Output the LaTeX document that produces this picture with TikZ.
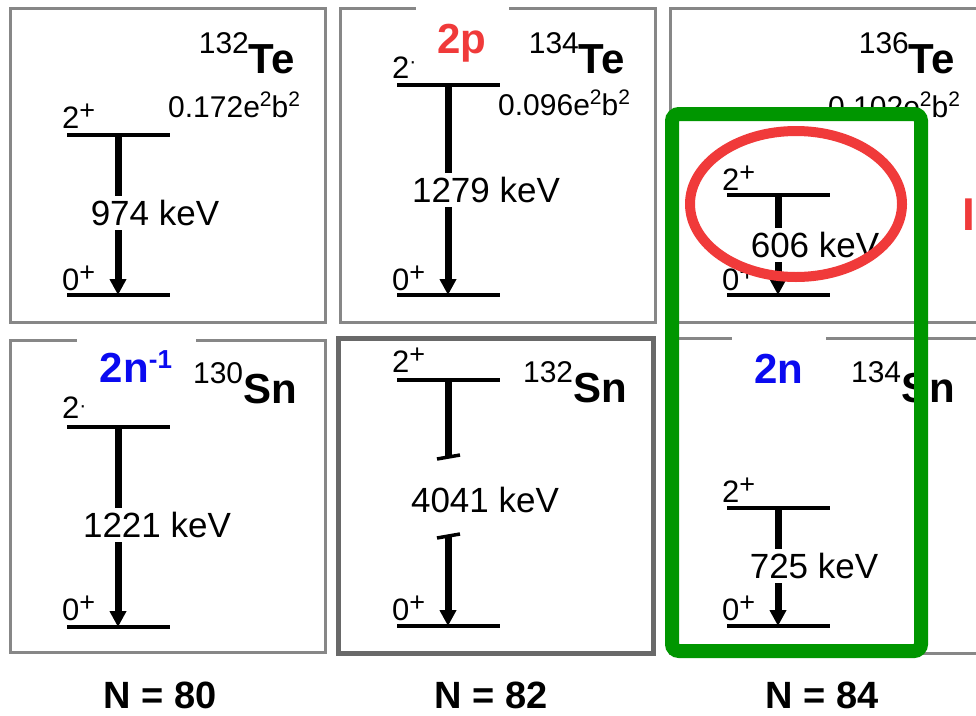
\documentclass[tikz,border=0pt]{standalone}
\usepackage{fontspec}
\setmainfont{Liberation Sans}
\usetikzlibrary{positioning,calc,arrows.meta}
\definecolor{boxgray}{RGB}{135,135,135}
\definecolor{darkbox}{RGB}{105,105,105}
\definecolor{ringred}{RGB}{240,58,58}
\definecolor{shellgreen}{RGB}{0,150,0}
\definecolor{tagblue}{RGB}{10,10,240}
\newcommand{\lift}[3]{\raisebox{#1}{\fontsize{#2}{#2}\selectfont #3}}

\begin{document}
\begin{tikzpicture}[x=1pt, y=-1pt,
    panel/.style={draw=boxgray, line width=3pt},
    lvl/.style={line width=3.5pt},
    trans/.style={line width=7pt},
    decay/.style={trans, -{Triangle[width=16pt, length=16pt]}},
    spin/.style={anchor=base west, inner sep=0pt, font=\fontsize{31}{31}\selectfont},
    egy/.style={inner sep=4pt, font=\fontsize{35}{35}\selectfont},
    bee/.style={anchor=base west, inner sep=0pt, font=\fontsize{30}{30}\selectfont},
    iso/.style={anchor=base east, inner sep=0pt, font=\fontsize{42}{42}\selectfont\bfseries},
    tag/.style={anchor=base, fill=white, inner ysep=19pt, font=\fontsize{42}{42}\selectfont\bfseries},
    nlabel/.style={anchor=base, inner sep=0pt, font=\fontsize{38}{38}\selectfont\bfseries}]
    \path[use as bounding box, fill=white] (0,0) rectangle (976,715);
    \clip (0,0) rectangle (976,715);

    \draw[panel] (10,8) rectangle (325,322);
    \draw[panel] (340,8) rectangle (655,322);
    \draw[panel] (670,8) rectangle (1000,322);
    \draw[panel] (10,340) rectangle (325,652);
    \draw[panel, draw=darkbox, line width=5pt] (338,338) rectangle (653,653);
    \draw[panel] (670,338) rectangle (1000,653);

    \node[tag, text=ringred, minimum width=93pt] (twop) at (462,53) {2p};
    \node[tag, text=tagblue, minimum width=119pt] (holes) at (136,382)
      {2n\lift{14pt}{26}{-1}};
    \node[tag, text=tagblue, minimum width=94pt] (twon) at (779,383) {2n};

    % 132Te
    \draw[lvl] (67,135) -- (170,135);
    \draw[lvl] (67,295) -- (170,295);
    \coordinate (te132hi) at (118,135);
    \coordinate (te132lo) at (118,295);
    \node[spin] (te132two) at (62,128) {2\lift{9pt}{27}{+}};
    \node[spin] (te132zero) at (62,290) {0\lift{9pt}{27}{+}};
    \node[egy] (te132e) at (155,213) {974 keV};
    \draw[trans] (te132hi) -- (te132hi |- te132e.north);
    \draw[decay] (te132hi |- te132e.south) -- (te132lo);
    \node[iso] (te132) at (295,73) {\lift{20pt}{30}{\mdseries 132}Te};
    \node[bee] (te132b) at (168,117) {0.172e\lift{11pt}{21}{2}b\lift{11pt}{21}{2}};

    % 134Te
    \draw[lvl] (397,85) -- (500,85);
    \draw[lvl] (397,295) -- (500,295);
    \coordinate (te134hi) at (448,85);
    \coordinate (te134lo) at (448,295);
    \node[spin] (te134two) at (392,78) {2\lift{10pt}{21}{·}};
    \node[spin] (te134zero) at (392,290) {0\lift{9pt}{27}{+}};
    \node[egy] (te134e) at (486,190) {1279 keV};
    \draw[trans] (te134hi) -- (te134hi |- te134e.north);
    \draw[decay] (te134hi |- te134e.south) -- (te134lo);
    \node[iso] (te134) at (625,73) {\lift{20pt}{30}{\mdseries 134}Te};
    \node[bee] (te134b) at (498,115) {0.096e\lift{11pt}{21}{2}b\lift{11pt}{21}{2}};

    % 136Te
    \draw[lvl] (727,195) -- (830,195);
    \draw[lvl] (727,295) -- (830,295);
    \coordinate (te136hi) at (778,195);
    \coordinate (te136lo) at (778,295);
    \node[spin] (te136two) at (722,190) {2\lift{9pt}{27}{+}};
    \node[spin] (te136zero) at (722,290) {0\lift{9pt}{27}{+}};
    \node[egy] (te136e) at (815,245) {606 keV};
    \draw[trans] (te136hi) -- (te136hi |- te136e.north);
    \draw[decay] (te136hi |- te136e.south) -- (te136lo);
    \node[iso] (te136) at (955,73) {\lift{20pt}{30}{\mdseries 136}Te};
    \node[bee] (te136b) at (828,117) {0.102e\lift{11pt}{21}{2}b\lift{11pt}{21}{2}};

    % 130Sn
    \draw[lvl] (67,427) -- (170,427);
    \draw[lvl] (67,627) -- (170,627);
    \coordinate (sn130hi) at (118,427);
    \coordinate (sn130lo) at (118,627);
    \node[spin] (sn130two) at (62,418) {2\lift{6pt}{21}{·}};
    \node[spin] (sn130zero) at (62,620) {0\lift{9pt}{27}{+}};
    \node[egy] (sn130e) at (157,525) {1221 keV};
    \draw[trans] (sn130hi) -- (sn130hi |- sn130e.north);
    \draw[decay] (sn130hi |- sn130e.south) -- (sn130lo);
    \node[iso] (sn130) at (297,403) {\lift{20pt}{30}{\mdseries 130}Sn};

    % 132Sn
    \draw[lvl] (397,380) -- (500,380);
    \draw[lvl] (397,626) -- (500,626);
    \coordinate (sn132hi) at (448,380);
    \coordinate (sn132lo) at (448,626);
    \coordinate (sn132cut) at (448,457);
    \coordinate (sn132go) at (448,536);
    \node[spin] (sn132two) at (392,372) {2\lift{9pt}{27}{+}};
    \node[spin] (sn132zero) at (392,620) {0\lift{9pt}{27}{+}};
    \node[egy] (sn132e) at (485,500) {4041 keV};
    \draw[trans] (sn132hi) -- (sn132cut);
    \draw[lvl] ($(sn132cut)+(-11,2)$) -- ($(sn132cut)+(12,-2)$);
    \draw[lvl] ($(sn132go)+(-11,2)$) -- ($(sn132go)+(12,-2)$);
    \draw[decay] (sn132go) -- (sn132lo);
    \node[iso] (sn132) at (627,402) {\lift{20pt}{30}{\mdseries 132}Sn};

    % 134Sn
    \draw[lvl] (727,508) -- (830,508);
    \draw[lvl] (727,626) -- (830,626);
    \coordinate (sn134hi) at (778,508);
    \coordinate (sn134lo) at (778,626);
    \node[spin] (sn134two) at (722,502) {2\lift{9pt}{27}{+}};
    \node[spin] (sn134zero) at (722,620) {0\lift{9pt}{27}{+}};
    \node[egy] (sn134e) at (814,566) {725 keV};
    \draw[trans] (sn134hi) -- (sn134hi |- sn134e.north);
    \draw[decay] (sn134hi |- sn134e.south) -- (sn134lo);
    \node[iso] (sn134) at (955,402) {\lift{20pt}{30}{\mdseries 134}Sn};

    \node[nlabel] (n80) at (160,708) {N = 80};
    \node[nlabel] (n82) at (491,708) {N = 82};
    \node[nlabel] (n84) at (822,708) {N = 84};

    \draw[shellgreen, line width=14pt, rounded corners=7pt] (672,114) rectangle (921,651);
    \draw[ringred, line width=10pt] (796,204) ellipse [x radius=106pt, y radius=73pt];
    \node[anchor=base west, inner sep=0pt, text=ringred, font=\fontsize{46}{46}\selectfont\bfseries]
      (cut) at (962,230) {I};
  \end{tikzpicture}
\end{document}
